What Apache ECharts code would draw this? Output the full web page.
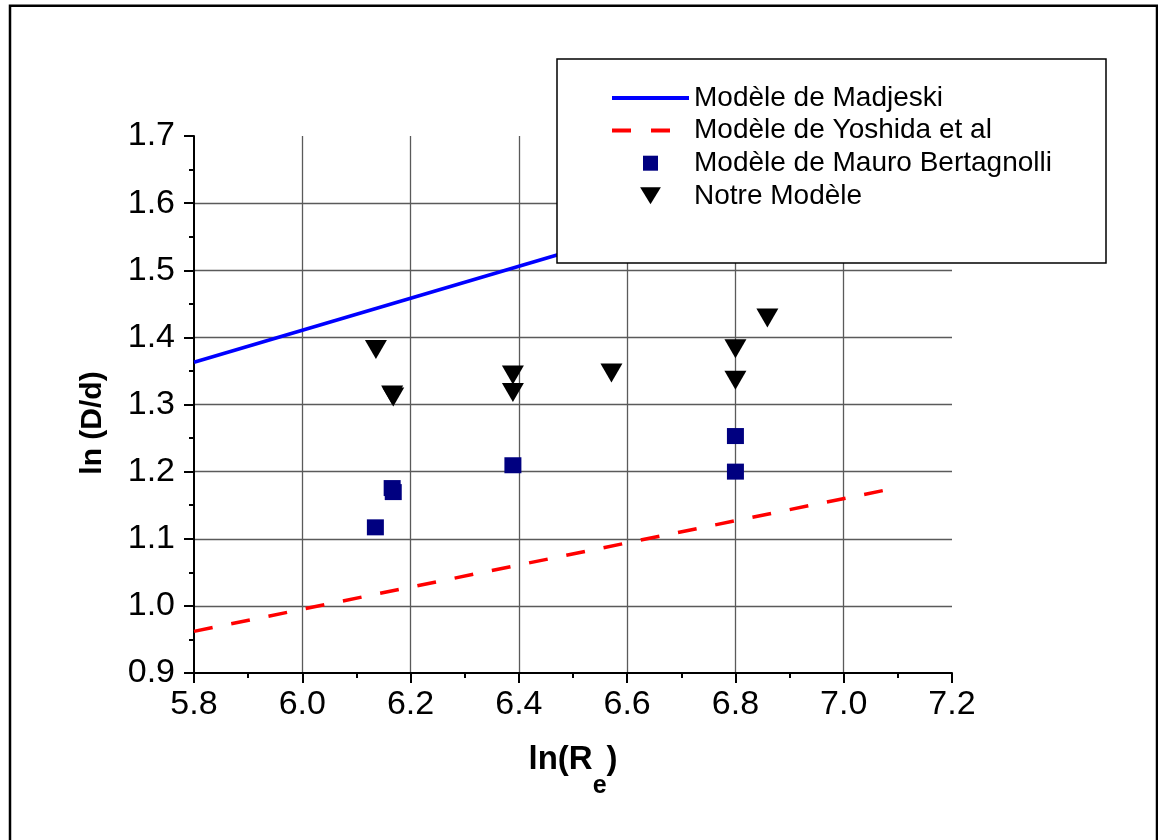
<!DOCTYPE html>
<html><head><meta charset="utf-8">
<script src="https://cdn.jsdelivr.net/npm/echarts@6/dist/echarts.min.js"></script>
<style>html,body{margin:0;padding:0;background:#fff}#c{width:1158px;height:840px}</style>
</head><body><div id="c"></div>
<script>
// ---- data ----
const seriesNames = ['Modèle de Madjeski', 'Modèle de Yoshida et al', 'Modèle de Mauro Bertagnolli', 'Notre Modèle'];
const modelLineX = [5.8, 7.08];
const madjeskiY = [1.363, 1.668];
const yoshidaY = [0.962, 1.173];
const mauroX = [6.135, 6.166, 6.168, 6.389, 6.800, 6.800];
const mauroY = [1.117, 1.1755, 1.1695, 1.2095, 1.253, 1.200];
const notreX = [6.136, 6.166, 6.168, 6.389, 6.389, 6.571, 6.800, 6.800, 6.859];
const notreY = [1.382, 1.314, 1.311, 1.344, 1.318, 1.347, 1.383, 1.336, 1.429];
const xAxisRange = [5.8, 7.2, 0.2];
const yAxisRange = [0.9, 1.7, 0.1];
const xTitle = ['ln(R', 'e', ')'];
const yTitle = 'ln (D/d)';

const zip = (xs, ys) => xs.map((x, i) => [x, ys[i]]);
const FONT = 'Liberation Sans, Arial, sans-serif';

const chart = echarts.init(document.getElementById('c'), null, {renderer: 'canvas'});
const axisCommon = {
  type: 'value',
  axisLine: {show: true, onZero: false, lineStyle: {color: '#000', width: 2}},
  axisTick: {show: true, inside: false, length: 10, lineStyle: {color: '#000', width: 2}},
  minorTick: {show: true, splitNumber: 2, length: 5, lineStyle: {color: '#000', width: 2}},
  splitLine: {show: true, showMinLine: false, showMaxLine: false, lineStyle: {color: '#5a5a5a', width: 1.3}},
  axisLabel: {color: '#000', fontSize: 34, fontFamily: FONT, formatter: v => v.toFixed(1)}
};
const hiddenSymbol = {color: 'rgba(0,0,0,0)', borderWidth: 0, opacity: 0};
chart.setOption({
  animation: false,
  textStyle: {fontFamily: FONT},
  grid: {left: 194, right: 206, top: 136, bottom: 167, containLabel: false},
  xAxis: Object.assign({}, axisCommon, {
    min: xAxisRange[0], max: xAxisRange[1], interval: xAxisRange[2],
    axisLabel: Object.assign({}, axisCommon.axisLabel, {margin: 15}),
    name: '{a|' + xTitle[0] + '}{b|' + xTitle[1] + '}{a|' + xTitle[2] + '}',
    nameLocation: 'middle', nameGap: 70,
    nameTextStyle: {
      rich: {
        a: {fontSize: 33, fontWeight: 'bold', color: '#000', fontFamily: FONT, lineHeight: 40, verticalAlign: 'top'},
        b: {fontSize: 25, fontWeight: 'bold', color: '#000', fontFamily: FONT, lineHeight: 25, padding: [31, 0, 0, 0], verticalAlign: 'top'}
      }
    }
  }),
  yAxis: Object.assign({}, axisCommon, {
    min: yAxisRange[0], max: yAxisRange[1], interval: yAxisRange[2],
    axisLabel: Object.assign({}, axisCommon.axisLabel, {margin: 19}),
    name: yTitle, nameLocation: 'middle', nameGap: 86,
    nameTextStyle: {fontSize: 30, fontWeight: 'bold', color: '#000', fontFamily: FONT, padding: [0, 37, 0, 0]}
  }),
  legend: {
    show: true, orient: 'vertical', left: 610, top: 84, padding: 0, z: 10,
    itemWidth: 77, itemHeight: 17, itemGap: 4.6, selectedMode: false,
    textStyle: {fontSize: 28, lineHeight: 28, color: '#000', fontFamily: FONT},
    data: [
      {name: seriesNames[0], itemStyle: hiddenSymbol, lineStyle: {width: 4, color: '#0000ff'}},
      {name: seriesNames[1], itemStyle: hiddenSymbol, lineStyle: {width: 4, color: '#ff0000', type: [19, 20]}},
      {name: seriesNames[2], icon: 'path://M0,0M17,17M1,1L16,1L16,16L1,16Z'},
      {name: seriesNames[3], icon: 'path://M0,0L22,0L11,18Z'}
    ]
  },
  graphic: {elements: [
    {type: 'rect', z: 3, shape: {x: 557, y: 59, width: 549, height: 204},
     style: {fill: '#fff', stroke: '#000', lineWidth: 1.5}},
    {type: 'rect', z: 3, shape: {x: 10, y: 5.7, width: 1147, height: 900},
     style: {fill: 'none', stroke: '#000', lineWidth: 2.5}}
  ]},
  series: [
    {name: seriesNames[0], type: 'line', data: zip(modelLineX, madjeskiY), symbol: 'none', z: 2,
     lineStyle: {color: '#0000ff', width: 3.5}, itemStyle: {color: '#0000ff'}},
    {name: seriesNames[1], type: 'line', data: zip(modelLineX, yoshidaY), symbol: 'none', z: 2,
     lineStyle: {color: '#ff0000', width: 3.5, type: [19, 19]}, itemStyle: {color: '#ff0000'}},
    {name: seriesNames[2], type: 'scatter', data: zip(mauroX, mauroY), symbol: 'rect', symbolSize: [17, 16], z: 2,
     itemStyle: {color: '#000080', opacity: 1}},
    {name: seriesNames[3], type: 'scatter', data: zip(notreX, notreY), symbol: 'path://M0,0L22,0L11,19Z', symbolSize: [22, 19], z: 2,
     itemStyle: {color: '#000', opacity: 1}}
  ]
});
</script></body></html>
